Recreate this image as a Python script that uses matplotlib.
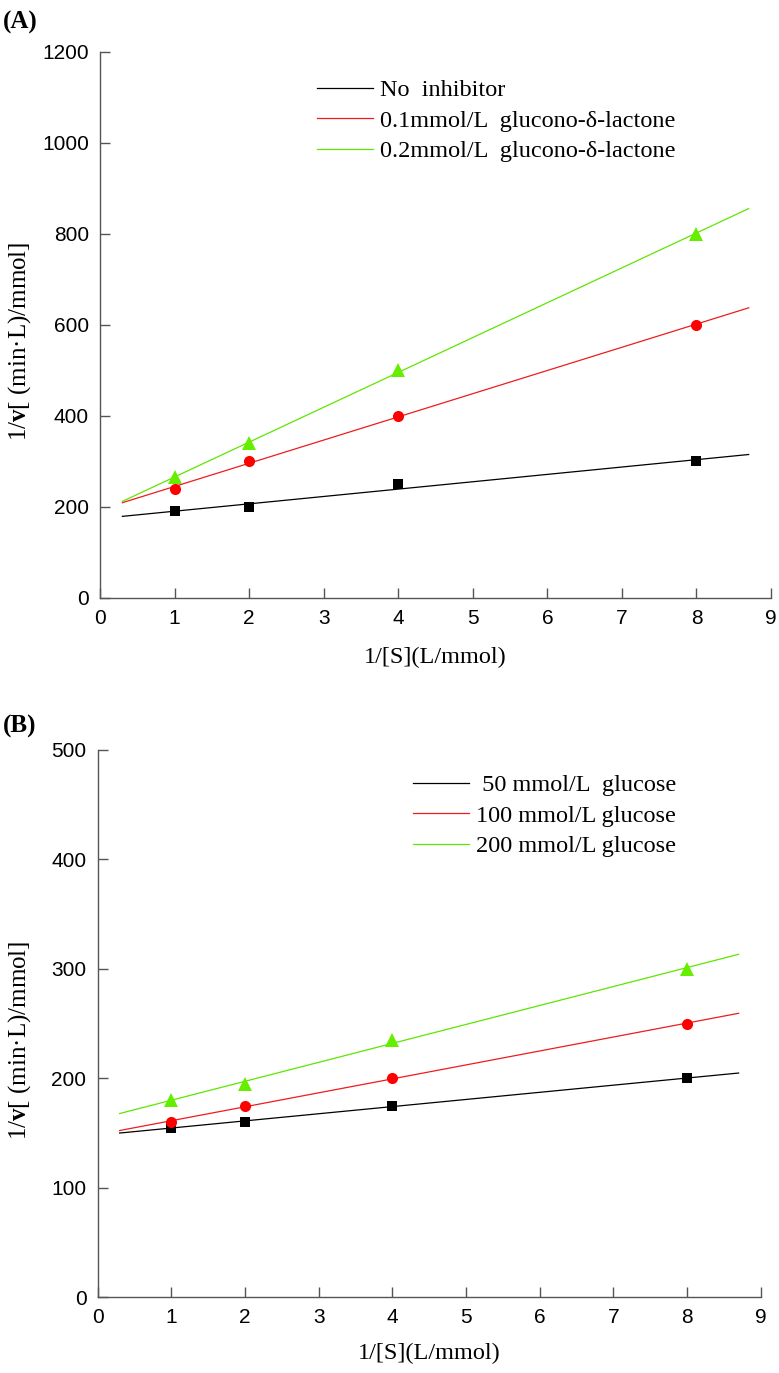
import numpy as np
import matplotlib
matplotlib.use('Agg')
import matplotlib.pyplot as plt

plt.rcParams['mathtext.fontset'] = 'custom'
plt.rcParams['mathtext.rm'] = 'Liberation Serif'
plt.rcParams['mathtext.bf'] = 'Liberation Serif:bold'

# data
x = [1, 2, 4, 8]

a_labels = ['No  inhibitor',
            '0.1mmol/L  glucono-\u03b4-lactone',
            '0.2mmol/L  glucono-\u03b4-lactone']
a_none = [190, 200, 250, 300]
a_01 = [240, 300, 400, 600]
a_02 = [265, 340, 500, 800]

b_labels = [' 50 mmol/L  glucose',
            '100 mmol/L glucose',
            '200 mmol/L glucose']
b_50 = [155, 160, 175, 200]
b_100 = [160, 175, 200, 250]
b_200 = [180, 195, 235, 300]

fit_range = [0.3, 8.7]

colors = ['black', '#ee1c1c', '#5ee600']
mcolors = ['black', '#ff0000', '#66ee00']
markers = ['s', 'o', '^']
msizes = [7.5, 8, 10]

serif = 'Liberation Serif'
sans = 'Liberation Sans'
spine_col = '#555555'

fig = plt.figure(figsize=(7.79, 13.73), dpi=100)
axA = fig.add_axes([0.1284, 0.5645, 0.8614, 0.3979])
axB = fig.add_axes([0.1252, 0.0551, 0.8513, 0.3989])


def draw(ax, series, labels, ymax, ystep, leg_anchor):
    handles = []
    xf = np.array(fit_range)
    for i, y in enumerate(series):
        k, b = np.polyfit(x, y, 1)
        ln, = ax.plot(xf, k * xf + b, color=colors[i], lw=0.9)
        handles.append(ln)
        ax.plot(x, y, linestyle='none', marker=markers[i], ms=msizes[i],
                color=mcolors[i], markeredgewidth=0)
    ax.set_xlim(0, 9)
    ax.set_ylim(0, ymax)
    ax.set_xticks(range(0, 10))
    ax.set_yticks(range(0, ymax + 1, ystep))
    for s in ['top', 'right']:
        ax.spines[s].set_visible(False)
    for s in ['left', 'bottom']:
        ax.spines[s].set_color(spine_col)
        ax.spines[s].set_linewidth(1.0)
    ax.tick_params(direction='in', length=7, width=1.0, color=spine_col,
                   pad=8, labelsize=15)
    for t in ax.get_xticklabels() + ax.get_yticklabels():
        t.set_fontfamily(sans)
    ax.set_xlabel('1/[S](L/mmol)', fontfamily=serif, fontsize=17.5)
    ax.set_ylabel('1/$\\mathbf{v}$[ (min\u00b7L)/mmol]', fontfamily=serif,
                  fontsize=18)
    leg = ax.legend(handles, labels, loc='upper left',
                    bbox_to_anchor=leg_anchor, bbox_transform=fig.transFigure,
                    frameon=False, borderpad=0, borderaxespad=0,
                    handlelength=2.3, handletextpad=0.3, labelspacing=0.35,
                    prop={'family': serif, 'size': 17.5})
    return leg


draw(axA, [a_none, a_01, a_02], a_labels, 1200, 200,
     (316.7 / 779, 1 - 79 / 1373))
axA.xaxis.set_label_coords(0.5, -0.09)
axA.yaxis.set_label_coords(-0.1, 0.469)

draw(axB, [b_50, b_100, b_200], b_labels, 500, 100,
     (412.7 / 779, 1 - 774 / 1373))
axB.xaxis.set_label_coords(0.5, -0.084)
axB.yaxis.set_label_coords(-0.097, 0.47)

fig.text(20 / 779, 1 - 22 / 1373, '(A)', fontfamily=serif, fontweight='bold',
         fontsize=18, ha='center', va='center')
fig.text(20 / 779, 1 - 726 / 1373, '(B)', fontfamily=serif, fontweight='bold',
         fontsize=18, ha='center', va='center')

fig.savefig('out.png', dpi=100)
